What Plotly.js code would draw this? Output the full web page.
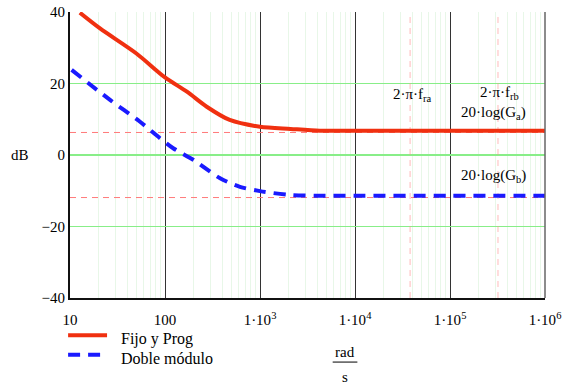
<!DOCTYPE html>
<html>
<head>
<meta charset="utf-8">
<script src="https://cdn.plot.ly/plotly-3.0.1.min.js"></script>
<style>html,body{margin:0;padding:0;background:#fff;}#chart{width:564px;height:384px;}</style>
</head>
<body>
<div id="chart"></div>
<script>
// Frequency (rad/s) and magnitude (dB)
const fijoX = [12.7, 20.7, 50, 100, 170, 275, 480, 1000, 2100, 4260, 1e4, 1e5, 1e6];
const fijoY = [39.8, 35.4, 28.4, 21.7, 17.7, 13.5, 9.8, 7.9, 7.3, 6.8, 6.8, 6.8, 6.8];
const dobleX = [10.4, 26.4, 54.6, 88.5, 122, 200, 380, 615, 1000, 2100, 4000, 1e4, 1e5, 1e6];
const dobleY = [23.8, 15.4, 9.3, 4.7, 1.9, -1.4, -6.5, -8.9, -10.1, -11.2, -11.4, -11.4, -11.4, -11.4];
const GaDB = 6.3;          // 20·log(Ga)
const GbDB = -11.9;        // 20·log(Gb)
const wra = 3.8e4;         // 2·π·fra
const wrb = 3.2e5;         // 2·π·frb
const xRange = [10, 1e6];
const xTickVals = [10, 100, 1e3, 1e4, 1e5, 1e6];
const xTickText = ['10', '100', '1·10<sup>3</sup>', '1·10<sup>4</sup>', '1·10<sup>5</sup>', '1·10<sup>6</sup>'];
const yTickVals = [40, 20, 0, -20, -40];
const yTickText = ['40', '20', '0', '\u221220', '\u221240'];
const seriesNames = ['Fijo y Prog', 'Doble módulo'];

const serif = "'Liberation Serif', 'Times New Roman', 'DejaVu Serif', serif";
const red = '#f03010', blue = '#1a1aff';
const refH = {color: '#ff7a7a', width: 1, dash: '6px,5px'};
const refV = {color: 'rgba(255,140,140,0.6)', width: 1, dash: '6px,5px'};

const traces = [
  {x: xRange, y: [GaDB, GaDB], mode: 'lines', line: refH, hoverinfo: 'skip'},
  {x: xRange, y: [GbDB, GbDB], mode: 'lines', line: refH, hoverinfo: 'skip'},
  {x: [wra, wra], y: [-40, 40], mode: 'lines', line: refV, hoverinfo: 'skip'},
  {x: [wrb, wrb], y: [-40, 40], mode: 'lines', line: refV, hoverinfo: 'skip'},
  {x: fijoX, y: fijoY, name: seriesNames[0], mode: 'lines', line: {color: red, width: 4, shape: 'spline', smoothing: 0.8}},
  {x: dobleX, y: dobleY, name: seriesNames[1], mode: 'lines', line: {color: blue, width: 4, dash: '12px,8px', shape: 'spline', smoothing: 0.8}}
];

const lg = v => Math.log10(v);
const ann = (x, y, text, size, xanchor) => ({x, y, xref: 'paper', yref: 'paper', text, showarrow: false,
  xanchor: xanchor || 'center', yanchor: 'middle', font: {family: serif, size: size || 15}});
const layout = {
  width: 564, height: 384,
  margin: {l: 70, r: 19, t: 12, b: 86},
  paper_bgcolor: '#fff', plot_bgcolor: '#fff',
  font: {family: serif, size: 15, color: '#000'},
  showlegend: false,
  xaxis: {
    type: 'log', range: [lg(xRange[0]), lg(xRange[1])],
    tickvals: xTickVals, ticktext: xTickText, ticks: '',
    ticklabelstandoff: 7, automargin: false,
    showgrid: true, gridcolor: '#333', gridwidth: 1,
    minor: {showgrid: true, gridcolor: '#e8f7e8', gridwidth: 1, dtick: 'D1', ticks: ''},
    showline: true, linecolor: '#111', linewidth: 2,
    zeroline: false, fixedrange: true
  },
  yaxis: {
    range: [-40, 40], tickvals: yTickVals, ticktext: yTickText, ticks: '',
    automargin: false,
    showgrid: true, gridcolor: '#88ee88', gridwidth: 1.5,
    showline: true, linecolor: '#111', linewidth: 2,
    zeroline: false, fixedrange: true
  },
  shapes: [
    {type: 'line', xref: 'paper', yref: 'paper', x0: 1, x1: 1, y0: 0, y1: 1, line: {color: '#666', width: 1.5}},
    {type: 'line', xref: 'paper', yref: 'paper', x0: 0.553, x1: 0.605, y0: -0.224, y1: -0.224, line: {color: '#000', width: 1}},
    // legend samples
    {type: 'line', xref: 'paper', yref: 'paper', x0: -0.004, x1: 0.078, y0: -0.13, y1: -0.13, line: {color: red, width: 4}},
    {type: 'line', xref: 'paper', yref: 'paper', x0: -0.004, x1: 0.078, y0: -0.198, y1: -0.198, line: {color: blue, width: 4, dash: '12px,8px'}}
  ],
  annotations: [
    {x: lg(4.0e4), y: 16.9, xref: 'x', yref: 'y', text: '2·π·f<sub>ra</sub>', showarrow: false, font: {family: serif, size: 15}},
    {x: lg(3.3e5), y: 17.3, xref: 'x', yref: 'y', text: '2·π·f<sub>rb</sub>', showarrow: false, font: {family: serif, size: 15}},
    {x: lg(2.85e5), y: 11.8, xref: 'x', yref: 'y', text: '20·log(G<sub>a</sub>)', showarrow: false, font: {family: serif, size: 15}},
    {x: lg(2.85e5), y: -5.8, xref: 'x', yref: 'y', text: '20·log(G<sub>b</sub>)', showarrow: false, font: {family: serif, size: 15}},
    ann(-0.105, 0.5, 'dB'),
    ann(0.579, -0.19, 'rad'),
    ann(0.579, -0.275, 's'),
    ann(0.103, -0.142, seriesNames[0], 16, 'left'),
    ann(0.103, -0.21, seriesNames[1], 16, 'left')
  ]
};

Plotly.newPlot('chart', traces, layout, {displayModeBar: false, staticPlot: true});
</script>
</body>
</html>
